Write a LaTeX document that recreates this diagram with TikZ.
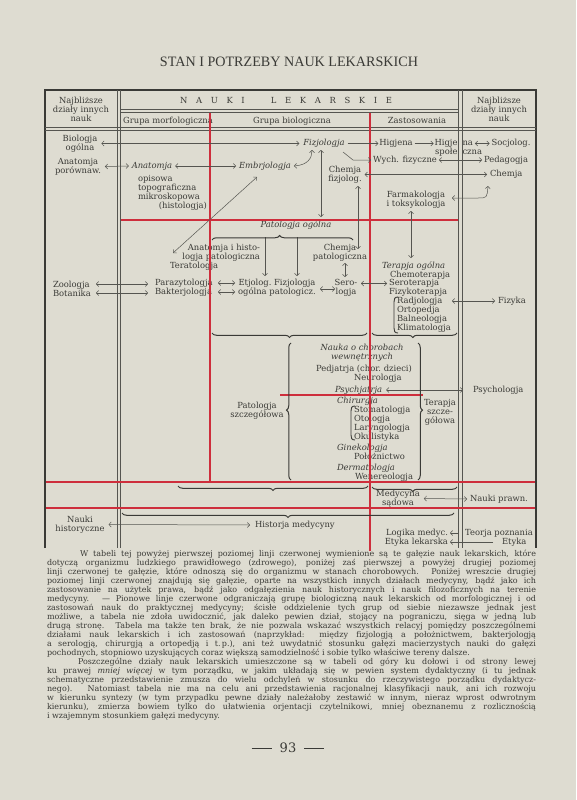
\documentclass[tikz,border=0pt]{standalone}
\usepackage{graphicx}
\usepackage{fontspec}
\setmainfont{DejaVu Serif}
\newfontfamily\lserif{Liberation Serif}
\usetikzlibrary{arrows.meta,decorations.pathreplacing}
\definecolor{paper}{RGB}{222,220,209}
\definecolor{ink}{RGB}{58,58,54}
\definecolor{rline}{RGB}{206,46,60}
\definecolor{gline}{RGB}{85,85,80}
\newcommand\tabf{\fontsize{8.4}{9}\selectfont}
\newcommand\bodyf{\fontsize{8.0}{9}\selectfont}
\begin{document}
\begin{tikzpicture}[x=1pt,y=-1pt,
  tb/.style={inner sep=0pt,outer sep=0pt,text=ink,font=\tabf},
  tx/.style={tb,text height=6.3pt,text depth=2.1pt},
  txi/.style={tx,font=\tabf\itshape},
  txm/.style={tb,align=center},
  bodyline/.style={tb,font=\bodyf,anchor=base west},
  gl/.style={draw=gline,line width=0.5pt},
  frame/.style={draw=ink,line width=1.2pt},
  rl/.style={draw=rline,line width=1.3pt},
  arr/.style={draw=gline,line width=0.5pt,-{Straight Barb[length=2.4pt,width=5pt]}},
  darr/.style={draw=gline,line width=0.5pt,{Straight Barb[length=2.4pt,width=5pt]}-{Straight Barb[length=2.4pt,width=5pt]}},
  bst/.style={draw=ink,line width=1pt,decorate,decoration={brace,amplitude=4.5pt,aspect=#1}},
  pst/.style={draw=ink,line width=0.9pt}]
\useasboundingbox (0,0) rectangle (576,800);
\fill[paper] (0,0) rectangle (576,800);

% title
\node[tb] (title) at (289,62) {\lserif\resizebox{258pt}{9.5pt}{STAN I POTRZEBY NAUK LEKARSKICH}};

% header
\node[txm] (hl) at (81,109.5) {Najbliższe\\działy innych\\nauk};
\node[txm] (hr) at (499,109.5) {Najbliższe\\działy innych\\nauk};
\node[tx] (nauki) at (286,101) {\makebox[212pt]{N\hfill A\hfill U\hfill K\hfill I\hfill\hfill\hfill L\hfill E\hfill K\hfill A\hfill R\hfill S\hfill K\hfill I\hfill E}};
\node[tx] (gm) at (168,121) {Grupa morfologiczna};
\node[tx] (gb) at (292,121) {Grupa biologiczna};
\node[tx] (za) at (417,121) {Zastosowania};

% row Biologja / Fizjologja
\node[txm] (bio) at (80,143.5) {Biologja\\ogólna};
\node[txi] (fizj) at (324,143.5) {Fizjologja};
\node[tx] (hig) at (396,143.5) {Higjena};
\node[tx,anchor=east] (hsa) at (457.5,143.5) {Higje};
\node[tx,anchor=west] (hsb) at (462.5,143.5) {na};
\node[tx,anchor=east] (hsc) at (457.5,152) {społe};
\node[tx,anchor=west] (hsd) at (462.5,152) {czna};
\node[tx] (soc) at (511,143.5) {Socjolog.};

% row Anatomja
\node[txm] (anp) at (78,166.5) {Anatomja\\porównaw.};
\node[txi] (anat) at (152,166) {Anatomja};
\node[txi] (embr) at (265,166) {Embrjologja};
\node[tx] (wych) at (405,160) {Wych. fizyczne};
\node[tx,anchor=west] (ped) at (484,160) {Pedagogja};
\node[txm] (chf) at (345,174.5) {Chemja\\fizjolog.};
\node[tx,anchor=west] (chem) at (490,174.5) {Chemja};
\node[tx,anchor=west] (op1) at (138,179) {opisowa};
\node[tx,anchor=west] (op2) at (138,188) {topograficzna};
\node[tx,anchor=west] (op3) at (138,197) {mikroskopowa};
\node[tx,anchor=east] (op4) at (207,206) {(histologja)};
\node[txm] (farm) at (416,200) {Farmakologja\\i toksykologja};

% patologja ogolna
\node[txi] (pog) at (296,225.5) {Patologja ogólna};
\node[tb,align=right,anchor=east] (anh) at (260,252.5) {Anatomja i histo-\\logja patologiczna};
\node[tx,anchor=west] (ter) at (170,266) {Teratologja};
\node[txm] (chp) at (340,252.5) {Chemja\\patologiczna};
\node[tb,align=left,anchor=west] (zoo) at (53,288.5) {Zoologja\\Botanika};
\node[tb,align=left,anchor=west] (par) at (155,287.5) {Parazytologja\\Bakterjologja};
\node[txm] (etj) at (277,287.5) {Etjolog.\ Fizjologja\\ogólna patologicz.};
\node[txm] (ser) at (346,287.5) {Sero-\\logja};

% terapja ogolna
\node[txi,anchor=west] (tog) at (382,266) {Terapja ogólna};
\node[tx,anchor=west] (cht) at (390,275) {Chemoterapja};
\node[tx,anchor=west] (srt) at (389,283.5) {Seroterapja};
\node[tx,anchor=west] (fzt) at (389,292) {Fizykoterapja};
\node[tb,align=left,anchor=west] (rad) at (397,314.5) {Radjologja\\Ortopedja\\Balneologja\\Klimatologja};
\node[tx,anchor=west] (fiz) at (498,301) {Fizyka};

% patologja szczegolowa
\node[txm] (psz) at (257,411) {Patologja\\szczegółowa};
\node[tb,align=center,font=\tabf\itshape] (nch) at (362,352.5) {Nauka o chorobach\\wewnętrznych};
\node[tx] (pdj) at (364,369) {Pedjatrja (chor.\ dzieci)};
\node[tx,anchor=west] (neu) at (354,378) {Neurologja};
\node[txi,anchor=west] (psy) at (335,390) {Psychjatrja};
\node[tx,anchor=west] (psl) at (473,390) {Psychologja};
\node[txi,anchor=west] (chi) at (337,401) {Chirurgja};
\node[tb,align=left,anchor=west] (sto) at (354,423.5) {Stomatologja\\Otologja\\Laryngologja\\Okulistyka};
\node[txi,anchor=west] (gin) at (337,448) {Ginekologja};
\node[tx,anchor=west] (pol) at (354,457) {Położnictwo};
\node[txi,anchor=west] (der) at (337,468) {Dermatologja};
\node[tx,anchor=west] (wen) at (355,477) {Wenereologja};
\node[txm] (tsz) at (440,412.5) {Terapja\\szcze-\\gółowa};

% lower rows
\node[txm] (med) at (398,498.5) {Medycyna\\sądowa};
\node[tx,anchor=west] (npr) at (470,499) {Nauki prawn.};
\node[txm] (nhi) at (80,524.5) {Nauki\\historyczne};
\node[tx,anchor=west] (hme) at (255,525) {Historja medycyny};
\node[tx,anchor=east] (lme) at (448,533) {Logika medyc.};
\node[tx,anchor=east] (ele) at (448,542) {Etyka lekarska};
\node[tx] (tpo) at (499,533) {Teorja poznania};
\node[tx,anchor=west] (ety) at (502,542) {Etyka};

% table lines
\draw[frame] (45,548) -- (45,90) -- (536,90) -- (536,548);
\draw[gl] (117,90) -- (117,548) (120,90) -- (120,548) (458,90) -- (458,548) (462,90) -- (462,548);
\draw[gl] (45,127) -- (536,127) (45,130) -- (536,130);
\draw[gl] (120,109) -- (458,109) (120,112) -- (458,112);
\draw[rl] (210,113) -- (210,481);
\draw[rl] (370,113) -- (370,551);
\draw[rl] (121,220) -- (458,220);
\draw[rl] (280,395) -- (423,395);
\draw[rl] (46,482) -- (535,482);
\draw[rl] (46,508) -- (535,508);

% coordinates for free ends
\coordinate (fz1) at (312,150);
\coordinate (fz2) at (321,150);
\coordinate (fz3) at (321,217);
\coordinate (fz4) at (343,152);
\coordinate (fz5) at (353,160);
\coordinate (cf1) at (358,186);
\coordinate (cf2) at (358,249);
\coordinate (em1) at (257,177);
\coordinate (te1) at (173,253);
\coordinate (fa1) at (452,198);
\coordinate (fa2) at (488,186);
\coordinate (fa3) at (411,211);
\coordinate (fa4) at (411,258);
\coordinate (zb1) at (96,284);
\coordinate (zb2) at (148,284);
\coordinate (zb3) at (96,293);
\coordinate (zb4) at (148,293);
\coordinate (pb1) at (218,283);
\coordinate (pb2) at (235,283);
\coordinate (pb3) at (218,292);
\coordinate (pb4) at (235,292);
\coordinate (es1) at (320,289);
\coordinate (es2) at (335,289);
\coordinate (cs1) at (345,263);
\coordinate (cs2) at (345,277);
\coordinate (ss1) at (361,283.5);
\coordinate (bd1) at (265,237);
\coordinate (bd2) at (265,276);
\coordinate (bd3) at (297,237);
\coordinate (bd4) at (297,276);
\coordinate (ra1) at (452,301);
\coordinate (ps1) at (463,390);
\coordinate (lg1) at (458,533);
\coordinate (lg2) at (450,533);
\coordinate (et1) at (493,542);
\coordinate (et2) at (450,542);

% connectors
\draw[darr] ([xshift=4pt]bio.east) -- ([xshift=-4pt]fizj.west);
\draw[arr] ([xshift=3pt]fizj.east) -- ([xshift=-1pt]hig.west);
\draw[arr] ([xshift=2pt]hig.east) -- ([xshift=-1pt]hsa.west);
\draw[darr] ([xshift=2pt]hsb.east) -- ([xshift=-2pt]soc.west);
\draw[darr] ([xshift=4pt]anp.east) -- ([xshift=-3pt]anat.west);
\draw[darr] ([xshift=3pt]anat.east) -- ([xshift=-3pt]embr.west);
\draw[darr] ([xshift=3pt]embr.east) .. controls (308,165) and (312,158) .. (fz1);
\draw[darr] (fz2) -- (fz3);
\draw[arr] (fz4) -- (fz5) -- ([xshift=-2pt]wych.west);
\draw[darr] ([xshift=2pt]wych.east) -- ([xshift=-2pt]ped.west);
\draw[darr] ([xshift=3pt]chf.east) -- ([xshift=-3pt]chem.west);
\draw[darr] (cf1) -- (cf2);
\draw[darr] (em1) -- (te1);
\draw[darr] (fa1) -- (478,198) .. controls (487,198) .. (fa2);
\draw[darr] (fa3) -- (fa4);
\draw[darr] (zb1) -- (zb2);
\draw[darr] (zb3) -- (zb4);
\draw[darr] (pb1) -- (pb2);
\draw[darr] (pb3) -- (pb4);
\draw[darr] (es1) -- (es2);
\draw[darr] (cs1) -- (cs2);
\draw[darr] (ss1) -- ([xshift=-2pt]srt.west);
\draw[arr] (bd1) -- (bd2);
\draw[arr] (bd3) -- (bd4);
\draw[darr] (ra1) -- ([xshift=-3pt]fiz.west);
\draw[darr] ([xshift=4pt]psy.east) -- (ps1);
\draw[darr] ([xshift=4pt]med.east) -- ([xshift=-3pt]npr.west);
\draw[darr] ([xshift=4pt]nhi.east) -- ([xshift=-5pt]hme.west);
\draw[arr] (lg1) -- (lg2);
\draw[arr] (et1) -- (et2);

% braces
\draw[bst=0.48] (212,240) -- (353,240);
\draw[bst=0.5] (367,333) -- (212,333);
\draw[bst=0.52] (457,333) -- (372,333);
\draw[bst=0.51] (291,480) -- (291,343);
\draw[bst=0.49] (418,343) -- (418,480);
\draw[bst=0.5] (368,486) -- (178,486);
\draw[bst=0.52] (457,487) -- (372,487);
\draw[bst=0.5] (454,513) -- (122,513);
\draw[pst] (398,297) .. controls (394.5,297) and (394,299) .. (394,302) -- (394,328) .. controls (394,331) and (394.5,333) .. (398,333);
\draw[pst] (355,406) .. controls (351.5,406) and (351,408) .. (351,411) -- (351,435) .. controls (351,438) and (351.5,440) .. (355,440);

% body text
\node[bodyline] (p1) at (80,556) {\makebox[456pt][s]{W tabeli tej powyżej pierwszej poziomej linji czerwonej wymienione są te gałęzie nauk lekarskich, które}};
\node[bodyline] (p2) at (47,565) {\makebox[489pt][s]{dotyczą organizmu ludzkiego prawidłowego (zdrowego), poniżej zaś pierwszej a powyżej drugiej poziomej}};
\node[bodyline] (p3) at (47,574) {\makebox[489pt][s]{linji czerwonej te gałęzie, które odnoszą się do organizmu w stanach chorobowych. Poniżej wreszcie drugiej}};
\node[bodyline] (p4) at (47,583) {\makebox[489pt][s]{poziomej linji czerwonej znajdują się gałęzie, oparte na wszystkich innych działach medycyny, bądź jako ich}};
\node[bodyline] (p5) at (47,592) {\makebox[489pt][s]{zastosowanie na użytek prawa, bądź jako odgałęzienia nauk historycznych i nauk filozoficznych na terenie}};
\node[bodyline] (p6) at (47,601) {\makebox[489pt][s]{medycyny. — Pionowe linje czerwone odgraniczają grupę biologiczną nauk lekarskich od morfologicznej i od}};
\node[bodyline] (p7) at (47,610) {\makebox[489pt][s]{zastosowań nauk do praktycznej medycyny; ścisłe oddzielenie tych grup od siebie niezawsze jednak jest}};
\node[bodyline] (p8) at (47,619) {\makebox[489pt][s]{możliwe, a tabela nie zdoła uwidocznić, jak daleko pewien dział, stojący na pograniczu, sięga w jedną lub}};
\node[bodyline] (p9) at (47,628) {\makebox[489pt][s]{drugą stronę. Tabela ma także ten brak, że nie pozwala wskazać wszystkich relacyj pomiędzy poszczególnemi}};
\node[bodyline] (p10) at (47,637) {\makebox[489pt][s]{działami nauk lekarskich i ich zastosowań (naprzykład: między fizjologją a położnictwem, bakterjologją}};
\node[bodyline] (p11) at (47,646) {\makebox[489pt][s]{a serologją, chirurgją a ortopedją i t.\,p.), ani też uwydatnić stosunku gałęzi macierzystych nauki do gałęzi}};
\node[bodyline] (p12) at (47,655) {pochodnych, stopniowo uzyskujących coraz większą samodzielność i sobie tylko właściwe tereny dalsze.};
\node[bodyline] (p13) at (78,664) {\makebox[458pt][s]{Poszczególne działy nauk lekarskich umieszczone są w tabeli od góry ku dołowi i od strony lewej}};
\node[bodyline] (p14) at (47,673) {\makebox[489pt][s]{ku prawej \textit{mniej więcej} w tym porządku, w jakim układają się w pewien system dydaktyczny (i tu jednak}};
\node[bodyline] (p15) at (47,682) {\makebox[489pt][s]{schematyczne przedstawienie zmusza do wielu odchyleń w stosunku do rzeczywistego porządku dydaktycz-}};
\node[bodyline] (p16) at (47,691) {\makebox[489pt][s]{nego). Natomiast tabela nie ma na celu ani przedstawienia racjonalnej klasyfikacji nauk, ani ich rozwoju}};
\node[bodyline] (p17) at (47,700) {\makebox[489pt][s]{w kierunku syntezy (w tym przypadku pewne działy należałoby zestawić w innym, nieraz wprost odwrotnym}};
\node[bodyline] (p18) at (47,709) {\makebox[489pt][s]{kierunku), zmierza bowiem tylko do ułatwienia orjentacji czytelnikowi, mniej obeznanemu z rozlicznością}};
\node[bodyline] (p19) at (47,718) {i wzajemnym stosunkiem gałęzi medycyny.};

% page number
\node[tb,font=\fontsize{13}{13}\selectfont] (pg) at (288,748) {\rule[3.5pt]{20pt}{0.8pt}\hspace{8pt}93\hspace{8pt}\rule[3.5pt]{20pt}{0.8pt}};
\end{tikzpicture}
\end{document}
